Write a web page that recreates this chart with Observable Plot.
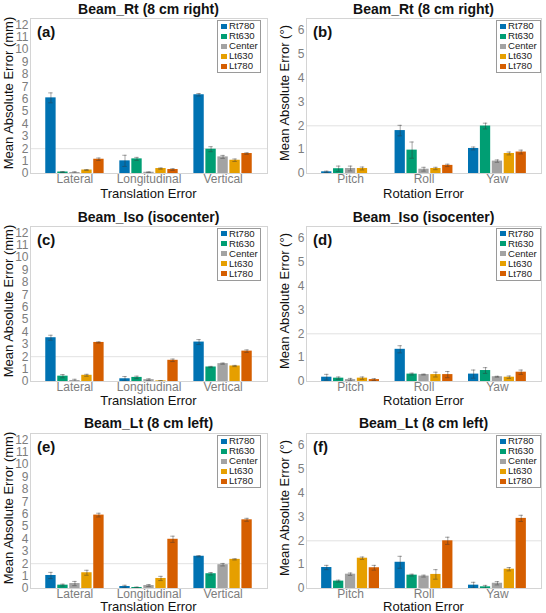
<!DOCTYPE html>
<html><head><meta charset="utf-8">
<script src="https://cdn.jsdelivr.net/npm/d3@7"></script>
<script src="https://cdn.jsdelivr.net/npm/@observablehq/plot@0.6"></script>
<style>
body{margin:0;background:#fff;font-family:"Liberation Sans",Arial,sans-serif;}
#root{position:relative;width:546px;height:613px;overflow:hidden;background:#fff}
.panel{position:absolute;width:273px;height:207px}
.panel svg{position:absolute;left:0;top:12px}
.title{position:absolute;text-align:center;font-weight:bold;font-size:14px;line-height:16px;color:#111;white-space:nowrap}
.letter{position:absolute;font-weight:bold;font-size:15px;line-height:15px;color:#111}
.legend{position:absolute;border:1px solid #9a9a9a;background:#fff;padding:0 0 1px 0;box-sizing:border-box}
.legend div{height:10px;line-height:10px;font-size:9.6px;color:#222;white-space:nowrap;position:relative;padding-left:11px}
.legend span{position:absolute;left:3px;top:2.5px;width:6px;height:5px}
.ylab{position:absolute;font-size:13px;line-height:13px;color:#111;white-space:nowrap;transform:translate(-50%,-50%) rotate(-90deg)}
.xlab{position:absolute;font-size:13px;line-height:14px;height:14px;color:#111;white-space:nowrap;text-align:center}
</style>
</head><body><div id="root"></div>
<script>
const series = ["Rt780", "Rt630", "Center", "Lt630", "Lt780"];
const seriesColors = ["#0072B2", "#009E73", "#A3A3A3", "#E69F00", "#D55E00"];
const transCats = ["Lateral", "Longitudinal", "Vertical"];
const rotCats = ["Pitch", "Roll", "Yaw"];
const transTicks = [0,1,2,3,4,5,6,7,8,9,10,11,12];
const rotTicks = [0,1,2,3,4,5,6];
const panelTitles = ["Beam_Rt (8 cm right)", "Beam_Rt (8 cm right)", "Beam_Iso (isocenter)", "Beam_Iso (isocenter)", "Beam_Lt (8 cm left)", "Beam_Lt (8 cm left)"];
const panelLetters = ["(a)", "(b)", "(c)", "(d)", "(e)", "(f)"];
const yLabels = ["Mean Absolute Error (mm)", "Mean Absolute Error (°)"];
const xLabels = ["Translation Error", "Rotation Error"];

// rows: categories, columns: series (Rt780, Rt630, Center, Lt630, Lt780)
const rtTransMean = [[6.10, 0.12, 0.08, 0.28, 1.15], [1.02, 1.18, 0.10, 0.40, 0.32], [6.35, 1.96, 1.34, 1.07, 1.61]];
const rtTransSd   = [[0.40, 0.03, 0.06, 0.03, 0.10], [0.45, 0.12, 0.03, 0.05, 0.07], [0.10, 0.20, 0.12, 0.10, 0.06]];
const rtRotMean   = [[0.07, 0.20, 0.21, 0.21, 0.00], [1.80, 0.98, 0.18, 0.21, 0.34], [1.05, 1.99, 0.52, 0.84, 0.90]];
const rtRotSd     = [[0.03, 0.11, 0.10, 0.06, 0.00], [0.22, 0.34, 0.08, 0.05, 0.05], [0.06, 0.12, 0.05, 0.06, 0.08]];
const isoTransMean = [[3.53, 0.43, 0.08, 0.50, 3.15], [0.22, 0.33, 0.15, 0.05, 1.71], [3.18, 1.17, 1.44, 1.25, 2.45]];
const isoTransSd   = [[0.20, 0.13, 0.10, 0.08, 0.05], [0.18, 0.10, 0.07, 0.03, 0.10], [0.20, 0.05, 0.05, 0.05, 0.10]];
const isoRotMean   = [[0.18, 0.14, 0.08, 0.14, 0.08], [1.35, 0.31, 0.29, 0.29, 0.29], [0.31, 0.46, 0.20, 0.18, 0.39]];
const isoRotSd     = [[0.12, 0.05, 0.05, 0.05, 0.04], [0.15, 0.04, 0.02, 0.10, 0.13], [0.17, 0.12, 0.02, 0.05, 0.09]];
const ltTransMean = [[1.05, 0.27, 0.40, 1.27, 5.92], [0.16, 0.08, 0.24, 0.81, 3.97], [2.60, 1.19, 1.92, 2.35, 5.54]];
const ltTransSd   = [[0.25, 0.08, 0.17, 0.20, 0.15], [0.10, 0.04, 0.08, 0.17, 0.25], [0.05, 0.10, 0.10, 0.05, 0.12]];
const ltRotMean   = [[0.88, 0.31, 0.60, 1.27, 0.87], [1.10, 0.56, 0.52, 0.59, 2.00], [0.14, 0.07, 0.22, 0.81, 2.94]];
const ltRotSd     = [[0.09, 0.04, 0.05, 0.05, 0.10], [0.25, 0.04, 0.04, 0.20, 0.15], [0.12, 0.06, 0.07, 0.07, 0.13]];

const panelMeans = [rtTransMean, rtRotMean, isoTransMean, isoRotMean, ltTransMean, ltRotMean];
const panelSds = [rtTransSd, rtRotSd, isoTransSd, isoRotSd, ltTransSd, ltRotSd];

const STEP = 0.162, HALF = 0.07, CAP = 0.03;
const rowTops = [0, 207.5, 415];
const colLeft = [0, 273];
const mLeft = [30, 33], mRight = [6, 5];
const root = document.getElementById("root");

for (let p = 0; p < 6; p++) {
  const col = p % 2, row = Math.floor(p / 2);
  const isRot = col === 1;
  const cats = isRot ? rotCats : transCats;
  const ymax = isRot ? 6.5 : 12.5;
  const rows = [];
  cats.forEach((c, ci) => series.forEach((s, si) => {
    rows.push({cat: c, series: s, xc: ci + 1 + (si - 2) * STEP, mean: panelMeans[p][ci][si], sd: panelSds[p][ci][si]});
  }));
  const eb = rows.filter(d => d.sd > 0);
  const svg = Plot.plot({
    width: 273, height: 193,
    marginLeft: mLeft[col], marginRight: mRight[col], marginTop: 6, marginBottom: 32,
    style: {fontFamily: '"Liberation Sans", Arial, sans-serif', background: "transparent", overflow: "visible"},
    x: {domain: [0.4, 3.6]},
    y: {domain: [0, ymax]},
    color: {domain: series, range: seriesColors},
    marks: [
      Plot.ruleY([2], {stroke: "#e2e2e2", strokeWidth: 1}),
      Plot.rectY(rows, {x1: d => d.xc - HALF, x2: d => d.xc + HALF, y1: 0, y2: "mean", fill: "series"}),
      Plot.ruleX(eb, {x: "xc", y1: d => d.mean - d.sd, y2: d => d.mean + d.sd, stroke: "#333", strokeOpacity: 0.55, strokeWidth: 0.8}),
      Plot.ruleY(eb, {y: d => d.mean + d.sd, x1: d => d.xc - CAP, x2: d => d.xc + CAP, stroke: "#333", strokeOpacity: 0.55, strokeWidth: 0.8}),
      Plot.ruleY(eb, {y: d => Math.max(0, d.mean - d.sd), x1: d => d.xc - CAP, x2: d => d.xc + CAP, stroke: "#333", strokeOpacity: 0.55, strokeWidth: 0.8}),
      Plot.frame({stroke: "#d4d4d4"}),
      Plot.axisY({ticks: isRot ? rotTicks : transTicks, tickFormat: d => String(d), tickSize: 0, tickPadding: 2, fontSize: 12, color: "#7d7d7d", label: null}),
      Plot.axisX({ticks: [1, 2, 3], tickFormat: i => cats[i - 1], tickSize: 0, tickPadding: 1, fontSize: 12, color: "#7d7d7d", label: null})
    ]
  });
  const panel = document.createElement("div");
  panel.className = "panel";
  panel.style.left = colLeft[col] + "px";
  panel.style.top = rowTops[row] + "px";
  panel.appendChild(svg);

  const frameW = 273 - mLeft[col] - mRight[col];
  const t = document.createElement("div");
  t.className = "title";
  t.textContent = panelTitles[p];
  t.style.left = mLeft[col] + "px";
  t.style.width = frameW + "px";
  t.style.top = (row === 2 ? -0.5 : 1) + "px";
  panel.appendChild(t);

  const l = document.createElement("div");
  l.className = "letter";
  l.textContent = panelLetters[p];
  l.style.left = (mLeft[col] + 7) + "px";
  l.style.top = "24px";
  panel.appendChild(l);

  const yl = document.createElement("div");
  yl.className = "ylab";
  yl.textContent = yLabels[col];
  yl.style.left = (col === 0 ? 8 : 11) + "px";
  yl.style.top = "93px";
  panel.appendChild(yl);

  const xl = document.createElement("div");
  xl.className = "xlab";
  xl.textContent = xLabels[col];
  xl.style.left = mLeft[col] + "px";
  xl.style.width = frameW + "px";
  xl.style.top = (row === 2 ? 185 : 186.5) + "px";
  panel.appendChild(xl);

  const lg = document.createElement("div");
  lg.className = "legend";
  lg.style.left = (col === 0 ? 217 : 223) + "px";
  lg.style.top = "20px";
  lg.style.width = (col === 0 ? 44 : 45) + "px";
  series.forEach((s, i) => {
    const it = document.createElement("div");
    const sw = document.createElement("span");
    sw.style.background = seriesColors[i];
    it.appendChild(sw);
    it.appendChild(document.createTextNode(s));
    lg.appendChild(it);
  });
  panel.appendChild(lg);
  root.appendChild(panel);
}
</script>
</body></html>
